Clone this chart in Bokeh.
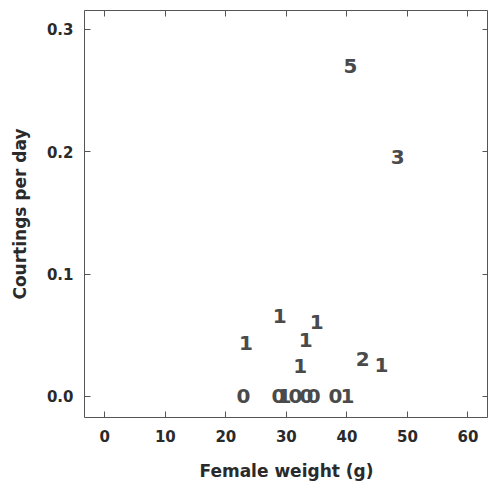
from bokeh.plotting import figure
from bokeh.models import ColumnDataSource, LinearAxis, Range1d, FixedTicker
from bokeh.core.properties import value
from bokeh.embed import file_html
from bokeh.resources import INLINE

# Data: female weight (g), courtings per day, label
weight = [40.6, 48.4, 28.9, 35.0, 33.2, 23.3, 32.3, 42.6, 45.7,
          22.9, 28.7, 29.7, 31.5, 33.3, 34.5, 38.1, 40.1]
courting = [0.270, 0.196, 0.0654, 0.0605, 0.0458, 0.0433, 0.0245, 0.031, 0.026,
            0.0, 0.0, 0.0, 0.0, 0.0, 0.0, 0.0, 0.0]
labels = ["5", "3", "1", "1", "1", "1", "1", "2", "1",
          "0", "0", "1", "0", "0", "0", "0", "1"]

x_ticks = [0, 10, 20, 30, 40, 50, 60]
y_ticks = [0.0, 0.1, 0.2, 0.3]
y_tick_labels = {0.0: "0.0", 0.1: "0.1", 0.2: "0.2", 0.3: "0.3"}

FONT = "DejaVu Sans"

src = ColumnDataSource(data=dict(x=weight, y=courting, t=labels))

p = figure(frame_width=404, frame_height=407, output_backend="svg", toolbar_location=None,
           x_range=Range1d(-3.36, 63.4), y_range=Range1d(-0.0172, 0.3155),
           min_border_left=84, min_border_right=0, min_border_top=10, min_border_bottom=72)

p.text(x="x", y="y", text="t", source=src, text_align="center", text_baseline="middle",
       text_font=value(FONT), text_font_style="bold", text_font_size="20px",
       text_color="#4a4a4a")

p.grid.visible = False
p.outline_line_color = "#555555"
p.outline_line_width = 1

def style(ax):
    ax.major_tick_in = 6
    ax.major_tick_out = 0
    ax.minor_tick_line_color = None
    ax.axis_line_color = None
    ax.major_tick_line_color = "#555555"
    ax.major_label_text_font = FONT
    ax.major_label_text_font_style = "bold"
    ax.major_label_text_font_size = "15px"
    ax.major_label_text_color = "#2a2a2a"
    ax.axis_label_text_font = FONT
    ax.axis_label_text_font_style = "bold"
    ax.axis_label_text_font_size = "17px"
    ax.axis_label_text_color = "#2a2a2a"

xa = p.xaxis[0]
style(xa)
xa.ticker = FixedTicker(ticks=x_ticks)
xa.axis_label = "Female weight (g)"
xa.major_label_standoff = 12
xa.axis_label_standoff = 16

ya = p.yaxis[0]
style(ya)
ya.ticker = FixedTicker(ticks=y_ticks)
ya.major_label_overrides = y_tick_labels
ya.axis_label = "Courtings per day"
ya.major_label_standoff = 11
ya.axis_label_standoff = 14

top = LinearAxis(ticker=FixedTicker(ticks=x_ticks))
style(top)
top.major_label_overrides = {t: "" for t in x_ticks}
top.major_label_standoff = 0
p.add_layout(top, "above")

right = LinearAxis(ticker=FixedTicker(ticks=y_ticks))
style(right)
right.major_label_overrides = {t: "" for t in y_ticks}
right.major_label_standoff = 0
p.add_layout(right, "right")

open("out.html", "w").write(file_html(p, INLINE))
